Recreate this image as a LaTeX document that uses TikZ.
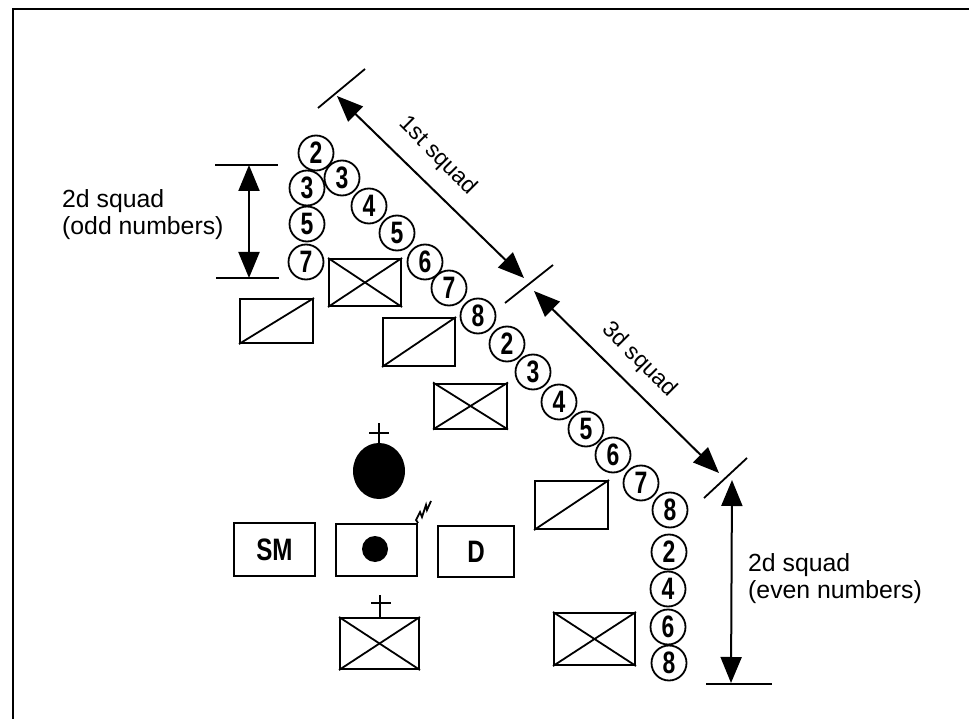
\documentclass[tikz,border=0pt]{standalone}
\usepackage{fontspec}
\setmainfont{Liberation Sans}
\usetikzlibrary{arrows.meta,shapes.geometric}
\tikzset{
  numcircle/.style={draw,circle,line width=1.8pt,minimum size=35pt,inner sep=0pt,font=\bfseries\fontsize{31}{31}\selectfont},
  unitbox/.style={draw,line width=2pt,inner sep=0pt},
  dimline/.style={line width=1.8pt},
  dimarrow/.style={line width=2pt,{Triangle[length=26pt,width=21pt]}-{Triangle[length=26pt,width=21pt]},shorten >=0pt,shorten <=0pt},
  squadlabel/.style={inner sep=0pt,font=\fontsize{24.8}{27}\selectfont},
  slantlabel/.style={inner sep=0pt,rotate=-45,font=\fontsize{23}{23}\selectfont}
}
\newcommand{\narrownum}[1]{\scalebox{.74}[1]{#1}}
\begin{document}
\begin{tikzpicture}[x=1pt,y=-1pt]
  \useasboundingbox (0,0) rectangle (969,719);
  \draw[line width=2.6pt] (13,719) -- (13,9) -- (969,9);
  % soldiers
  \foreach \cx/\cy/\num [count=\i] in {316/153/2,307/188/3,307/224/5,306/262/7,
    342/178/3,369/206/4,397/233/5,425/262/6,449/288/7,478/316/8,
    507/344/2,533/372/3,559/402/4,586/429/5,613/455/6,641/483/7,670/510/8,
    669/552/2,668/589/4,668/627/6,669/663/8}{
    \node[numcircle] (sol\i) at (\cx,\cy) {\narrownum{\num}};
  }
  % vehicles with a cross
  \foreach \name/\cx/\cy/\bw/\bh in {xa/365/282.5/72/47,xb/470.5/406/73/45,xc/594.5/639/81/52,xd/379.5/643.5/79/51}{
    \node[unitbox,minimum width=\bw pt,minimum height=\bh pt] (\name) at (\cx,\cy) {};
    \draw[line width=1.8pt] (\name.south west) -- (\name.north east);
    \draw[line width=1.8pt] (\name.north west) -- (\name.south east);
  }
  % vehicles with a slash
  \foreach \name/\cx/\cy/\bw/\bh in {sa/276.5/321/73/44,sb/419/342/72/48,sc/571.5/505/73/48}{
    \node[unitbox,minimum width=\bw pt,minimum height=\bh pt] (\name) at (\cx,\cy) {};
    \draw[line width=1.8pt] (\name.south west) -- (\name.north east);
  }
  % command group
  \node[unitbox,minimum width=81pt,minimum height=53pt,font=\bfseries\fontsize{31}{31}\selectfont] (sm) at (274.5,549.5) {\scalebox{.78}[1]{SM}};
  \node[unitbox,minimum width=81pt,minimum height=52pt] (pl) at (376.5,550) {};
  \node[unitbox,minimum width=76pt,minimum height=51pt,font=\bfseries\fontsize{31}{31}\selectfont] (d) at (476,551.5) {\scalebox{.78}[1]{D}};
  \node[fill=black,circle,minimum size=26pt,inner sep=0pt] (pldot) at (375,549) {};
  \node[fill=black,ellipse,minimum width=52pt,minimum height=56pt,inner sep=0pt] (ldr) at (379,471) {};
  \draw[line width=1.8pt] (pl.north east) -- (416,520) -- (420,512) -- (422,517) -- (426,505) -- (427,510) -- (431,501);
  \draw[line width=1.8pt] (ldr.north) -- (379,423);
  \draw[line width=1.8pt] (369,433) -- (389,433);
  \draw[line width=1.8pt] (380,618) -- (380,595);
  \draw[line width=1.8pt] (371,603) -- (391,603);
  % dimension marks
  \coordinate (ta1) at (318,108);
  \coordinate (ta2) at (365,69);
  \coordinate (tb1) at (505,303);
  \coordinate (tb2) at (553,265);
  \coordinate (tc1) at (704,498);
  \coordinate (tc2) at (747,458);
  \coordinate (td1) at (706,684);
  \coordinate (td2) at (772,684);
  \coordinate (te1) at (215,165);
  \coordinate (te2) at (278,165);
  \coordinate (tf1) at (216,278);
  \coordinate (tf2) at (279,278);
  \foreach \a/\b in {ta1/ta2,tb1/tb2,tc1/tc2,td1/td2,te1/te2,tf1/tf2}{
    \draw[dimline] (\a) -- (\b);
  }
  \draw[dimarrow] (337,96) -- (524,278);
  \draw[dimarrow] (534,291) -- (719,473);
  \draw[dimarrow] (732,480) -- (731,683);
  \draw[dimarrow] (249,165) -- (249,278);
  % labels
  \node[slantlabel] (first) at (438,156) {1st squad};
  \node[slantlabel] (third) at (639,360) {3d squad};
  \node[squadlabel,anchor=west,align=left] (odd) at (62,215) {2d squad\\(odd numbers)};
  \node[squadlabel,anchor=west,align=left] (even) at (748,579) {2d squad\\(even numbers)};
\end{tikzpicture}
\end{document}
